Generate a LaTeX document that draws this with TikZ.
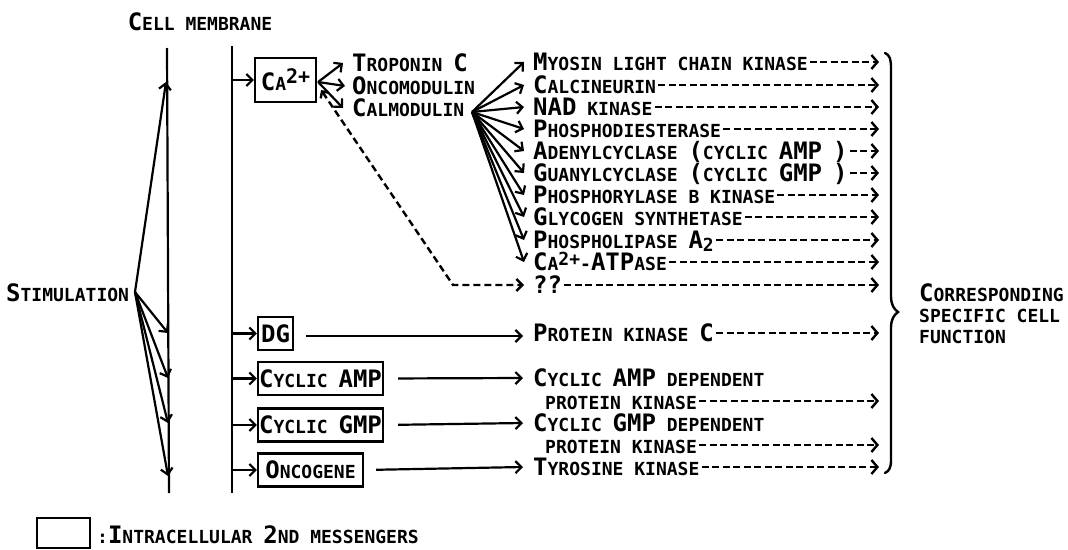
\documentclass[tikz,border=0pt]{standalone}
\usepackage{fontspec}
\newfontfamily\mono{DejaVu Sans Mono}
\usetikzlibrary{arrows.meta}
\newcommand\lbfont{\mono\bfseries\fontsize{18}{18}\selectfont}
\newcommand\Bg[1]{{\fontsize{24}{24}\selectfont #1}}
\newcommand\Sup[1]{\raisebox{7pt}{\fontsize{20}{20}\selectfont #1}}
\newcommand\SupS[1]{\raisebox{5pt}{\fontsize{18}{18}\selectfont #1}}
\newcommand\Sub[1]{\raisebox{-3pt}{\fontsize{18}{18}\selectfont #1}}
\tikzset{
  lbl/.style={font=\lbfont, inner sep=0pt, text height=17pt, text depth=1pt, anchor=west},
  msgbox/.style={draw, line width=2.2pt, inner sep=0pt, font=\lbfont, minimum height=33pt},
  ar/.style={line width=2.2pt, -{Straight Barb[length=6pt,width=12pt]}},
  dar/.style={line width=2.4pt, dash pattern=on 7pt off 3.5pt, shorten <=2pt, -{Straight Barb[length=6pt,width=14pt]}},
  mem/.style={line width=2.2pt},
}
\begin{document}
\begin{tikzpicture}[x=1pt,y=-1pt]
\useasboundingbox (0,0) rectangle (1068,549);

% title
\node[lbl, anchor=center] (cm) at (200,22) {\Bg{C}ELL MEMBRANE};

% membrane lines
\coordinate (lmt) at (167,48); \coordinate (lmb) at (169,493);
\coordinate (rmt) at (232,46); \coordinate (rmb) at (232,493);
\draw[mem] (lmt) -- (lmb);
\draw[mem] (rmt) -- (rmb);
\coordinate (rm) at (232,0);

% stimulation
\node[lbl] (stim) at (6,293) {\Bg{S}TIMULATION};
\coordinate (so) at (135,292);
\coordinate (s1) at (166,82);
\coordinate (s2) at (168,333);
\coordinate (s3) at (168,378);
\coordinate (s4) at (168,423);
\coordinate (s5) at (168,476);
\foreach \t in {s1,s2,s3,s4,s5} \draw[ar] (so) -- (\t);

% messenger boxes
\node[msgbox, minimum width=61pt, minimum height=44pt] (ca) at (285.5,80) {\Bg{C}A\Sup{2+}};
\node[msgbox, minimum width=35pt] (dg) at (275.5,333.5) {\Bg{DG}};
\node[msgbox, minimum width=125pt] (camp) at (320.5,378.5) {\Bg{C}YCLIC \Bg{AMP}};
\node[msgbox, minimum width=125pt] (cgmp) at (320.5,425) {\Bg{C}YCLIC \Bg{GMP}};
\node[msgbox, minimum width=105pt] (onc) at (310.5,470) {\Bg{O}NCOGENE};
\foreach \b in {ca,dg,camp,cgmp,onc} \draw[ar] (\b.west -| rm) -- (\b.west);

% Ca binding proteins
\node[lbl] (trop) at (352,63) {\Bg{T}ROPONIN \Bg{C}};
\node[lbl] (oncm) at (352,86) {\Bg{O}NCOMODULIN};
\node[lbl] (calm) at (352,108) {\Bg{C}ALMODULIN};
\coordinate (cas) at ([shift={(1,2)}]ca.east);
\draw[ar] (cas) -- ([xshift=-9pt]trop.west);
\draw[ar] (cas) -- ([xshift=-7pt]oncm.west);
\draw[ar] (cas) -- ([xshift=-9pt]calm.west);

% calmodulin targets
\node[lbl] (r1) at (533,62) {\Bg{M}YOSIN LIGHT CHAIN KINASE};
\node[lbl] (r2) at (533,85) {\Bg{C}ALCINEURIN};
\node[lbl] (r3) at (533,107) {\Bg{NAD} KINASE};
\node[lbl] (r4) at (533,129) {\Bg{P}HOSPHODIESTERASE};
\node[lbl] (r5) at (533,151) {\Bg{A}DENYLCYCLASE \Bg{(}CYCLIC \Bg{AMP} \Bg{)}};
\node[lbl] (r6) at (533,173) {\Bg{G}UANYLCYCLASE \Bg{(}CYCLIC \Bg{GMP} \Bg{)}};
\node[lbl] (r7) at (533,195) {\Bg{P}HOSPHORYLASE B KINASE};
\node[lbl] (r8) at (533,217) {\Bg{G}LYCOGEN SYNTHETASE};
\node[lbl] (r9) at (533,240) {\Bg{P}HOSPHOLIPASE \Bg{A}\Sub{2}};
\node[lbl] (r10) at (533,262) {\Bg{C}A\SupS{2+}-\Bg{ATP}ASE};
\node[lbl] (r11) at (533,285) {\Bg{??}};
\coordinate (cf) at (472,112);
\foreach \r in {r1,r2,r3,r4,r5,r6,r7,r8,r9,r10} \draw[ar] (cf) -- ([xshift=-9pt]\r.west);

% dashed path Ca -> ??
\coordinate (cad) at ([shift={(4,10)}]ca.east);
\coordinate (bend) at (453,285);
\draw[line width=2.4pt, dash pattern=on 7pt off 4pt, {Straight Barb[length=5pt,width=10pt]}-{Straight Barb[length=6pt,width=12pt]}] (cad) -- (bend) -- ([xshift=-9pt]r11.west);

% other targets
\node[lbl] (pkc) at (533,333) {\Bg{P}ROTEIN KINASE \Bg{C}};
\node[lbl] (pka1) at (533,378) {\Bg{C}YCLIC \Bg{AMP} DEPENDENT};
\node[lbl] (pka2) at (545,401) {PROTEIN KINASE};
\node[lbl] (pkg1) at (533,423) {\Bg{C}YCLIC \Bg{GMP} DEPENDENT};
\node[lbl] (pkg2) at (545,445) {PROTEIN KINASE};
\node[lbl] (tyr) at (533,467) {\Bg{T}YROSINE KINASE};
\draw[ar, shorten <=12pt] (dg.east |- 0,336) -- ([xshift=-10pt]pkc.west |- 0,336);
\draw[ar, shorten <=14pt] (camp.east) -- ([xshift=-10pt]pka1.west);
\draw[ar, shorten <=14pt] (cgmp.east) -- ([xshift=-10pt]pkg1.west);
\draw[ar, shorten <=12pt] (onc.east) -- ([xshift=-10pt]tyr.west);

% dashed arrows to cell function
\coordinate (endx) at (879,0);
\foreach \r in {r1,r2,r3,r4,r5,r6,r7,r8,r9,r10,r11,pkc,pka2,pkg2,tyr}
  \draw[dar] (\r.east) -- (\r.east -| endx);

% brace
\draw[line width=2.4pt, line cap=round] (885,53) .. controls (890,55) and (891,60) .. (891,68) -- (891,296)
  .. controls (891,305) and (894,309) .. (898,312) .. controls (894,315) and (891,319) .. (891,328)
  -- (891,460) .. controls (891,468) and (889,471) .. (885,473);

\node[lbl] (f1) at (919,293) {\Bg{C}ORRESPONDING};
\node[lbl] (f2) at (919,314) {SPECIFIC CELL};
\node[lbl] (f3) at (919,335) {FUNCTION};

% legend
\node[draw, line width=2.2pt, minimum width=53pt, minimum height=30pt, inner sep=0pt] (leg) at (63.5,533) {};
\node[lbl] (legt) at (97,535) {:\Bg{I}NTRACELLULAR \Bg{2}ND MESSENGERS};
\end{tikzpicture}
\end{document}
